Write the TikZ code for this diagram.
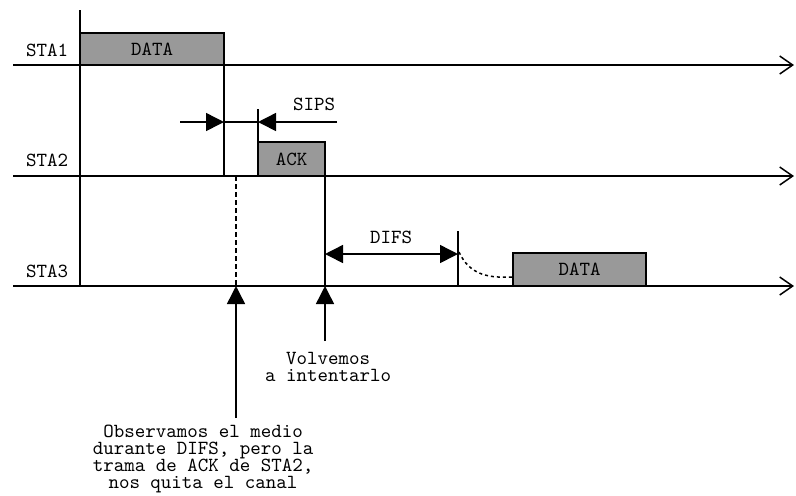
\documentclass[tikz,border=0pt]{standalone}
\usepackage{fontspec}
\usetikzlibrary{arrows.meta}
\definecolor{boxgray}{RGB}{153,153,153}
\begin{document}
\begin{tikzpicture}[x=0.5pt,y=-0.5pt,
  line width=0.75pt,
  lbl/.style={font=\ttfamily\fontsize{10}{8.6}\selectfont, inner sep=0pt},
  frame/.style={draw, fill=boxgray, line width=0.75pt, inner sep=0pt, outer sep=0pt,
                font=\ttfamily\fontsize{10}{8.6}\selectfont},
  timeline/.style={-{Straight Barb[length=6.5pt,width=9pt,line width=0.75pt]}},
  tri/.style={-{Triangle[length=9pt,width=9pt]}},
  bitri/.style={{Triangle[length=9pt,width=9pt]}-{Triangle[length=9pt,width=9pt]}},
  dashv/.style={dash pattern=on 2.5pt off 1.5pt},
  dotc/.style={dash pattern=on 1.5pt off 1.5pt},
]
\useasboundingbox (0,0) rectangle (796,495);

% timelines
\coordinate (l1s) at (13,65);  \coordinate (l1e) at (794,65);
\coordinate (l2s) at (13,176); \coordinate (l2e) at (794,176);
\coordinate (l3s) at (13,286); \coordinate (l3e) at (794,286);
\draw[timeline] (l1s) -- (l1e);
\draw[timeline] (l2s) -- (l2e);
\draw[timeline] (l3s) -- (l3e);

% main axis
\coordinate (axtop) at (80,10);
\coordinate (axbot) at (80,286);
\draw (axtop) -- (axbot);

% station labels
\node[lbl] (sta1) at (47,50) {STA1};
\node[lbl] (sta2) at (47,160) {STA2};
\node[lbl] (sta3) at (47,271) {STA3};

% frames
\node[frame, anchor=south west, minimum width=72pt, minimum height=16pt] (data1) at (80,65) {DATA};
\node[frame, anchor=south west, minimum width=33.5pt, minimum height=17pt] (ack) at (258,176) {ACK};
\node[frame, anchor=south west, minimum width=66.5pt, minimum height=16.5pt] (data3) at (513,286) {DATA};

% vertical markers
\draw (data1.south east) -- (data1.south east |- l2s);
\coordinate (acktop) at (258,109);
\draw (ack.south west |- acktop) -- (ack.south west);
\draw (ack.south east) -- (ack.south east |- l3s);
\coordinate (dashtop) at (236,176);
\coordinate (dashbot) at (236,286);
\draw[dashv] (dashtop) -- (dashbot);
\coordinate (difstop) at (458,231);
\coordinate (difsbot) at (458,286);
\draw (difstop) -- (difsbot);

% SIFS
\coordinate (sl) at (180,122);
\coordinate (sr) at (337,122);
\draw[tri] (sl) -- (sl -| data1.south east);
\draw (sl -| data1.south east) -- (sl -| ack.south west);
\draw[tri] (sr) -- (sr -| ack.south west);
\node[lbl] (sips) at (314,104) {SIPS};

% DIFS
\coordinate (db) at (458,254);
\draw[bitri] (db -| ack.south east) -- (db);
\node[lbl] (difs) at (391,237) {DIFS};

% backoff curve
\coordinate (cs) at (459,252);
\draw[dotc] (cs) .. controls (470,276) and (490,278) .. (data3.south west |- 0,277);

% pointers
\coordinate (p1) at (236,418);
\draw[tri] (p1) -- (dashbot);
\draw[tri] (ack.south east |- 0,341) -- (ack.south east |- l3s);

\node[lbl, align=center] (volv) at (328,367) {Volvemos\\a intentarlo};
\node[lbl, align=center] (obs) at (203,459) {Observamos el medio\\durante DIFS, pero la\\trama de ACK de STA2,\\nos quita el canal};
\end{tikzpicture}
\end{document}
